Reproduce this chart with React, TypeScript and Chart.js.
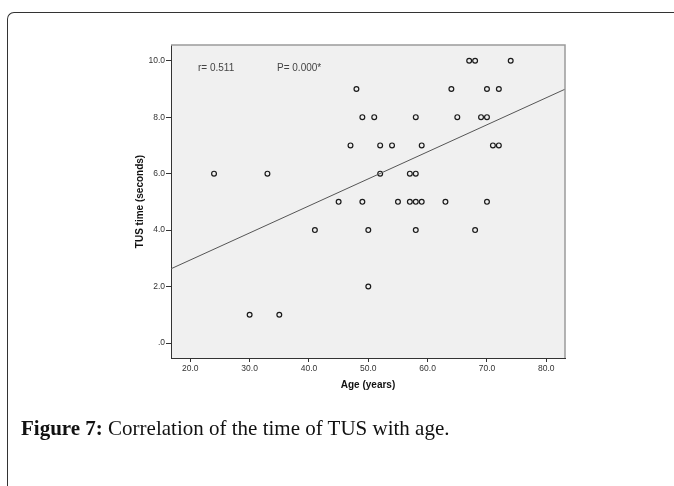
import React, { useEffect, useRef } from "react";
import { Chart, registerables } from "chart.js";

Chart.register(...registerables);

// Data
const AGE = [24, 33, 48, 49, 51, 47, 52, 54, 52, 67, 68, 74, 64, 70, 72, 58, 65, 69, 70, 59, 71, 72, 57, 58, 45, 49, 55, 57, 58, 59, 63, 70, 41, 50, 58, 68, 50, 30, 35];
const TUS = [6, 6, 9, 8, 8, 7, 7, 7, 6, 10, 10, 10, 9, 9, 9, 8, 8, 8, 8, 7, 7, 7, 6, 6, 5, 5, 5, 5, 5, 5, 5, 5, 4, 4, 4, 4, 2, 1, 1];

const FIT_X = [16.75, 83.15];
const FIT_Y = [2.63, 8.99];

const X_TICKS = [20, 30, 40, 50, 60, 70, 80];
const X_TICK_LABELS = ["20.0", "30.0", "40.0", "50.0", "60.0", "70.0", "80.0"];
const Y_TICKS = [0, 2, 4, 6, 8, 10];
const Y_TICK_LABELS = [".0", "2.0", "4.0", "6.0", "8.0", "10.0"];

const X_MIN = 16.75;
const X_MAX = 83.15;
const Y_MIN = -0.53;
const Y_MAX = 10.556;

const X_TITLE = "Age (years)";
const Y_TITLE = "TUS time (seconds)";
const ANNOT_R = "r= 0.511";
const ANNOT_P = "P= 0.000*";
const CAPTION_BOLD = "Figure 7:";
const CAPTION_TEXT = " Correlation of the time of TUS with age.";

const FONT = "'Liberation Sans', Arial, sans-serif";

const decorPlugin = {
  id: "decor",
  beforeDraw(chart: any) {
    const { ctx, chartArea: a } = chart;
    ctx.save();
    ctx.fillStyle = "#f0f0f0";
    ctx.fillRect(a.left, a.top, a.right - a.left, a.bottom - a.top);
    ctx.restore();
  },
  afterDraw(chart: any) {
    const { ctx, chartArea: a } = chart;
    ctx.save();
    ctx.strokeStyle = "#9a9a9a";
    ctx.lineWidth = 1.5;
    ctx.beginPath();
    ctx.moveTo(a.left, a.top);
    ctx.lineTo(a.right, a.top);
    ctx.lineTo(a.right, a.bottom);
    ctx.stroke();

    ctx.fillStyle = "#444";
    ctx.font = `10px ${FONT}`;
    ctx.textBaseline = "middle";
    ctx.textAlign = "left";
    ctx.fillText(ANNOT_R, a.left + 27, a.top + 23);
    ctx.fillText(ANNOT_P, a.left + 106, a.top + 23);

    ctx.fillStyle = "#111";
    ctx.font = `bold 10px ${FONT}`;
    ctx.textAlign = "center";
    ctx.fillText(X_TITLE, (a.left + a.right) / 2, a.bottom + 27);
    ctx.translate(a.left - 31, (a.top + a.bottom) / 2);
    ctx.rotate(-Math.PI / 2);
    ctx.fillText(Y_TITLE, 0, 0);
    ctx.restore();
  },
};

export default function App() {
  const ref = useRef<HTMLCanvasElement | null>(null);

  useEffect(() => {
    document.body.style.margin = "0";
    document.body.style.overflow = "hidden";
    const canvas = ref.current;
    if (!canvas) return;
    const chart = new Chart(canvas, {
      type: "scatter",
      data: {
        datasets: [
          {
            type: "line",
            data: FIT_X.map((x, i) => ({ x, y: FIT_Y[i] })),
            borderColor: "#555",
            borderWidth: 1,
            pointRadius: 0,
            fill: false,
          } as any,
          {
            data: AGE.map((x, i) => ({ x, y: TUS[i] })),
            pointRadius: 2.4,
            pointBorderWidth: 1.2,
            borderColor: "#1a1a1a",
            backgroundColor: "rgba(0,0,0,0)",
            pointHoverRadius: 2.4,
          },
        ],
      },
      options: {
        animation: false,
        responsive: false,
        maintainAspectRatio: false,
        devicePixelRatio: 1,
        layout: { padding: { left: 0, top: 45, right: 109, bottom: 0 } },
        plugins: {
          legend: { display: false },
          tooltip: { enabled: false },
        },
        scales: {
          x: {
            type: "linear",
            min: X_MIN,
            max: X_MAX,
            afterBuildTicks: (s: any) => {
              s.ticks = X_TICKS.map((v) => ({ value: v }));
            },
            afterFit: (s: any) => {
              s.height = 128;
            },
            ticks: {
              callback: (_v: any, i: number) => X_TICK_LABELS[i],
              font: { size: 8.5, family: FONT },
              color: "#333",
              padding: 2,
              maxRotation: 0,
            },
            grid: {
              drawOnChartArea: false,
              drawTicks: true,
              tickLength: 4,
              tickColor: "#333",
            },
            border: { display: true, color: "#333", width: 1 },
          },
          y: {
            type: "linear",
            min: Y_MIN,
            max: Y_MAX,
            afterBuildTicks: (s: any) => {
              s.ticks = Y_TICKS.map((v) => ({ value: v }));
            },
            afterFit: (s: any) => {
              s.width = 171;
            },
            ticks: {
              callback: (_v: any, i: number) => Y_TICK_LABELS[i],
              font: { size: 8.5, family: FONT },
              color: "#333",
              padding: 1,
            },
            grid: {
              drawOnChartArea: false,
              drawTicks: true,
              tickLength: 5,
              tickColor: "#333",
            },
            border: { display: true, color: "#333", width: 1 },
          },
        },
      },
      plugins: [decorPlugin],
    });
    return () => chart.destroy();
  }, []);

  return (
    <div
      style={{
        position: "fixed",
        left: 0,
        top: 0,
        width: 674,
        height: 486,
        background: "#fff",
        overflow: "hidden",
      }}
    >
      <div
        style={{
          position: "absolute",
          left: 7,
          top: 12,
          width: 667,
          height: 474,
          borderTop: "1px solid #333",
          borderLeft: "1px solid #333",
          borderTopLeftRadius: 7,
          boxSizing: "border-box",
        }}
      />
      <canvas
        ref={ref}
        width={674}
        height={486}
        style={{ position: "absolute", left: 0, top: 0, width: 674, height: 486 }}
      />
      <div
        style={{
          position: "absolute",
          left: 21,
          top: 415,
          fontFamily: "'Liberation Serif', 'DejaVu Serif', serif",
          fontSize: 21,
          lineHeight: "26px",
          color: "#111",
          whiteSpace: "nowrap",
        }}
      >
        <b>{CAPTION_BOLD}</b>
        {CAPTION_TEXT}
      </div>
    </div>
  );
}
